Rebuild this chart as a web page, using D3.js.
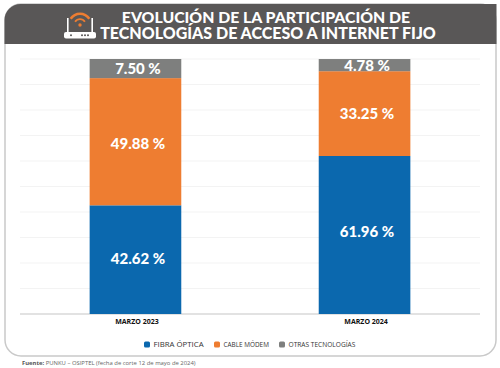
<!DOCTYPE html>
<html>
<head>
<meta charset="utf-8">
<script src="https://cdn.jsdelivr.net/npm/d3@7"></script>
<style>
html,body{margin:0;padding:0;background:#fff;}
svg{display:block;}
</style>
</head>
<body>
<div id="chart"></div>
<script>
var periods = ['MARZO 2023','MARZO 2024'];
var fibra = [42.62,61.96];
var cable = [49.88,33.25];
var otras = [7.50,4.78];
var series_names = ['FIBRA ÓPTICA','CABLE MÓDEM','OTRAS TECNOLOGÍAS'];
var series_colors = ['#0b68ae','#ee7d31','#7e7f7e'];
var grid_ticks = [0,10,20,30,40,50,60,70,80,90,100];

var width = 500, height = 368;
var font = "Lato, 'Open Sans', sans-serif";

var svg = d3.select('#chart').append('svg')
	.attr('width',width)
	.attr('height',height);

//Frame
svg.append('rect')
	.attr('x',5).attr('y',4)
	.attr('width',491).attr('height',352)
	.attr('rx',16)
	.attr('fill','#fff')
	.attr('stroke','#c9c9c9')
	.attr('stroke-width',1.5);

//Header
svg.append('path')
	.attr('d','M4.5,44 V20 A16,16 0 0 1 20.5,4 H496.5 V44 Z')
	.attr('fill','#595757');

var title = svg.append('g')
	.attr('font-family',font)
	.attr('font-weight',900)
	.attr('font-size',16)
	.attr('fill','#fff')
	.attr('text-anchor','middle');
title.append('text').attr('x',266).attr('y',23).attr('font-size',15.8).text('EVOLUCIÓN DE LA PARTICIPACIÓN DE');
title.append('text').attr('x',268).attr('y',38.5).text('TECNOLOGÍAS DE ACCESO A INTERNET FIJO');

//Router icon
var icon = svg.append('g').attr('transform','translate(80,25)');
icon.append('rect').attr('x',-16).attr('y',7).attr('width',32).attr('height',6.5).attr('rx',2).attr('fill','#fff');
icon.append('rect').attr('x',-13).attr('y',-7).attr('width',1.6).attr('height',15).attr('fill','#fff');
icon.append('rect').attr('x',11.4).attr('y',-7).attr('width',1.6).attr('height',15).attr('fill','#fff');
[[-9,10.2],[2,10.2],[5,10.2],[8,10.2]].forEach(function(d){
	icon.append('circle').attr('cx',d[0]).attr('cy',d[1]).attr('r',1).attr('fill','#595757');
});
var arc = d3.arc();
[[5,6.8],[10,12.5]].forEach(function(r){
	icon.append('path')
		.attr('d',arc({innerRadius:r[0],outerRadius:r[1],startAngle:-Math.PI/3.2,endAngle:Math.PI/3.2}))
		.attr('fill','#ee7d31');
});
icon.append('circle').attr('cx',0).attr('cy',0).attr('r',1.7).attr('fill','#ee7d31');

//Scales
var y = d3.scaleLinear().domain([0,100]).range([314,59]);
var x = d3.scaleBand().domain(periods).range([20,480]).paddingInner(0.6).paddingOuter(0.304);

svg.append('g').selectAll('line')
	.data(grid_ticks)
	.enter()
	.append('line')
	.attr('x1',20).attr('x2',480)
	.attr('y1',(d)=>y(d)).attr('y2',(d)=>y(d))
	.attr('stroke',(d)=>d==0 ? '#d9d9d9' : '#f3f3f3')
	.attr('stroke-width',(d)=>d==0 ? 1.5 : 1);

var table = periods.map(function(p,i){
	return {period:p,fibra:fibra[i],cable:cable[i],otras:otras[i]};
});
var stack = d3.stack().keys(['fibra','cable','otras'])(table);

var groups = svg.append('g').selectAll('g')
	.data(stack)
	.enter()
	.append('g')
	.attr('fill',(d,i)=>series_colors[i]);

groups.selectAll('rect')
	.data((d)=>d)
	.enter()
	.append('rect')
	.attr('x',(d)=>x(d.data.period))
	.attr('y',(d)=>y(d[1]))
	.attr('width',x.bandwidth())
	.attr('height',(d)=>y(d[0])-y(d[1]));

// labels are not quite centred in the original, nudge a few
function label_nudge(d){
	var v = (d[1]-d[0]).toFixed(2);
	if(v=='61.96') return -3;
	if(v=='49.88') return 1.5;
	if(v=='42.62') return -1.5;
	return 0;
}

groups.selectAll('text')
	.data((d)=>d)
	.enter()
	.append('text')
	.attr('x',(d)=>x(d.data.period)+x.bandwidth()/2+2.5)
	.attr('y',(d)=>(y(d[0])+y(d[1]))/2+label_nudge(d))
	.attr('dy','0.36em')
	.attr('text-anchor','middle')
	.attr('font-family',font)
	.attr('font-weight',900)
	.attr('font-size',15)
	.attr('fill','#fff')
	.text((d)=>(d[1]-d[0]).toFixed(2)+' %');

//Category labels
svg.append('g').selectAll('text')
	.data(periods)
	.enter()
	.append('text')
	.attr('x',(d)=>x(d)+x.bandwidth()/2+1.5)
	.attr('y',321.5)
	.attr('dy','0.36em')
	.attr('text-anchor','middle')
	.attr('font-family',"'Open Sans', sans-serif")
	.attr('font-weight',700)
	.attr('font-size',7)
	.attr('fill','#111')
	.text((d)=>d);

//Legend
var legend_x = [144,214,279];
var legend_size = [7.8,6.4,6.6];
var legend = svg.append('g').selectAll('g')
	.data(series_names)
	.enter()
	.append('g')
	.attr('transform',(d,i)=>'translate('+legend_x[i]+',344.5)');
legend.append('rect')
	.attr('x',0).attr('y',-3)
	.attr('width',6).attr('height',6).attr('rx',1.5)
	.attr('fill',(d,i)=>series_colors[i]);
legend.append('text')
	.attr('x',9.5)
	.attr('dy','0.36em')
	.attr('font-family',"'Open Sans', sans-serif")
	.attr('font-size',(d,i)=>legend_size[i])
	.attr('fill','#333')
	.text((d)=>d);

//Source
var src = svg.append('text')
	.attr('x',22).attr('y',365)
	.attr('font-family',"'Open Sans', sans-serif")
	.attr('font-size',5.9)
	.attr('fill','#666');
src.append('tspan').attr('font-weight',700).attr('fill','#555').text('Fuente: ');
src.append('tspan').text('PUNKU – OSIPTEL (fecha de corte 12 de mayo de 2024)');
</script>
</body>
</html>
